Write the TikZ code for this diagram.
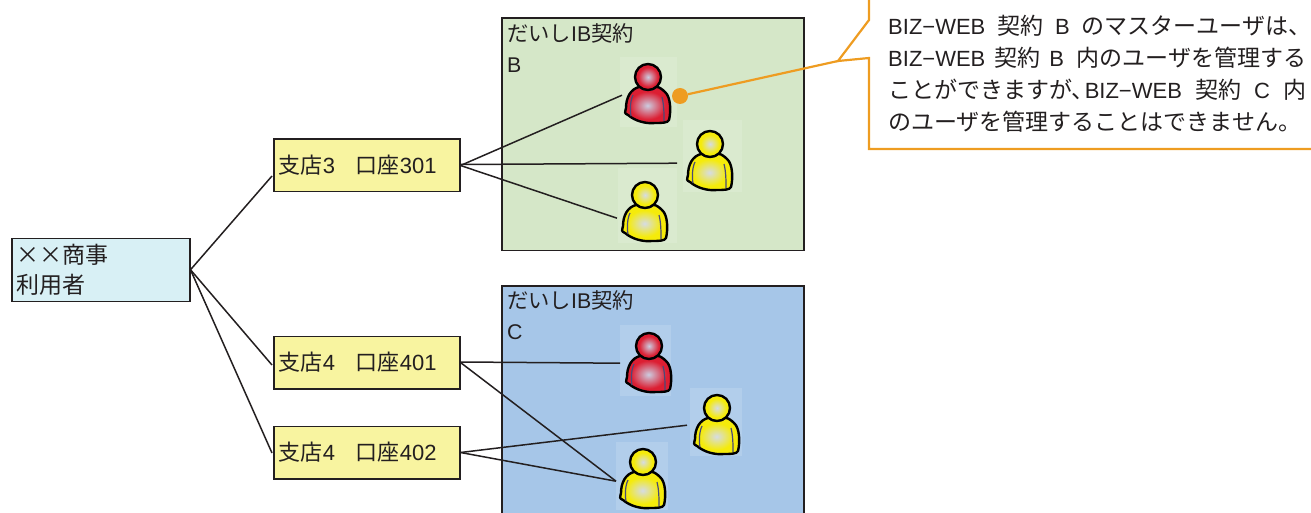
\documentclass[tikz,border=0pt]{standalone}
\usepackage{fontspec}
\setmainfont{Liberation Sans}
\newfontfamily\cjk{Noto Sans CJK JP}
\newcommand{\J}[1]{{\cjk #1}}
\newcommand{\JN}[1]{{\fontsize{23}{32}\selectfont\cjk #1}}
\definecolor{ink}{HTML}{231F20}
\definecolor{orangeline}{HTML}{EE9C21}
\definecolor{greenbox}{HTML}{D5E7C8}
\definecolor{bluebox}{HTML}{A6C6E8}
\definecolor{yellowbox}{HTML}{F8F4A0}
\definecolor{cyanbox}{HTML}{D8F0F5}
\definecolor{armline}{HTML}{4A4A78}
\definecolor{redmid}{HTML}{CCCCE0}
\definecolor{redout}{HTML}{DC1E32}
\definecolor{yelmid}{HTML}{D6DCE4}
\definecolor{yelout}{HTML}{F5EB0A}
\pgfdeclareradialshading{redg}{\pgfpoint{0cm}{0cm}}{color(0bp)=(redmid); color(19bp)=(redout); color(50bp)=(redout)}
\pgfdeclareradialshading{yelg}{\pgfpoint{0cm}{0cm}}{color(0bp)=(yelmid); color(18bp)=(yelout); color(50bp)=(yelout)}
\tikzset{
  x=1pt,y=-1pt,
  link/.style={draw=ink,line width=1.5pt},
  boxed/.style={draw=ink,line width=1.5pt,rectangle,anchor=north west,inner ysep=0pt,text=ink,align=left},
  account/.style={boxed,fill=yellowbox,minimum width=185.5pt,minimum height=52.5pt,text width=176pt,inner xsep=5pt,font=\fontsize{22}{26}\selectfont},
  contract/.style={draw=ink,line width=1.5pt,rectangle,anchor=north west,minimum width=302pt},
  boxtext/.style={anchor=north west,inner sep=0pt,text=ink,align=left,font=\fontsize{21.3}{30.5}\selectfont},
  personbg/.style={anchor=north west,rectangle,fill=white,fill opacity=.14,inner sep=0pt},
  redfig/.style={shading=redg},
  yellowfig/.style={shading=yelg},
}
\newcommand{\personfig}[3]{%
  \begin{scope}[shift={(#1,#2)}]
    \shade[#3,draw=black,line width=2.4pt,line join=round]
      (-9,10) .. controls (-17,12) and (-22,20) .. (-22,31)
      .. controls (-23,36) and (-24,36) .. (-20,38)
      .. controls (-13,44) and (-2,47) .. (7,46)
      .. controls (13,46) and (20,46) .. (21,43)
      .. controls (23,35) and (23,20) .. (17,15)
      .. controls (14,12) and (11,10) .. (9,10) -- cycle;
    \draw[draw=armline,line width=1.2pt] (-8,11) .. controls (-3,14) and (3,14) .. (8,11);
    \draw[draw=armline,line width=1.2pt] (-15,18) .. controls (-18,24) and (-18,34) .. (-17,39);
    \draw[draw=armline,line width=1.2pt] (14,20) .. controls (16,28) and (16,36) .. (16,44);
    \shade[#3,draw=black,line width=2.4pt] (0,0) circle (13);
  \end{scope}}
\begin{document}
\begin{tikzpicture}
\useasboundingbox (0,0) rectangle (1311,513);
\clip (0,0) rectangle (1311,513);
% contract boxes
\node[contract,fill=greenbox,minimum height=232pt] (cb) at (501,17.5) {};
\node[contract,fill=bluebox,minimum height=240pt] (cc) at (501,285) {};
\node[boxtext] (cbt) at (507,23.5) {\J{だいし}IB\J{契約}\\B};
\node[boxtext] (cct) at (507,290.5) {\J{だいし}IB\J{契約}\\C};
% people
\node[personbg,minimum width=57pt,minimum height=70pt] (p1) at (620,57) {};
\node[personbg,minimum width=59pt,minimum height=72pt] (p2) at (683,120) {};
\node[personbg,minimum width=59pt,minimum height=75pt] (p3) at (618,168) {};
\node[personbg,minimum width=51pt,minimum height=71pt] (p4) at (620,325) {};
\node[personbg,minimum width=52pt,minimum height=68pt] (p5) at (690,388) {};
\node[personbg,minimum width=52pt,minimum height=68pt] (p6) at (616,442) {};
\personfig{648}{77}{redfig}
\personfig{710}{144}{yellowfig}
\personfig{645}{195}{yellowfig}
\personfig{649}{346}{redfig}
\personfig{717}{408}{yellowfig}
\personfig{643}{462}{yellowfig}
% source boxes
\node[boxed,fill=cyanbox,minimum width=177.5pt,minimum height=63pt,text width=169pt,inner xsep=4.5pt,font=\fontsize{23}{30}\selectfont] (root) at (11,237.5) {\J{××商事}\\\J{利用者}};
\node[account] (a3) at (273,138.5) {\J{支店}3\hspace{21pt}\J{口座}301};
\node[account] (a41) at (273,335.5) {\J{支店}4\hspace{21pt}\J{口座}401};
\node[account] (a42) at (273,425.5) {\J{支店}4\hspace{21pt}\J{口座}402};
% connectors
\draw[link] (root.east) -- ([shift={(-1pt,-10.5pt)}]a3.west);
\draw[link] (root.east) -- ([shift={(-1pt,-2.5pt)}]a41.west);
\draw[link] (root.east) -- ([shift={(-1pt,-0.5pt)}]a42.west);
\draw[link] (a3.east) -- ([shift={(2pt,-3pt)}]p1.west);
\draw[link] ([yshift=1pt]a3.east) -- ([shift={(-6pt,-7pt)}]p2.west);
\draw[link] (a3.east) -- ([shift={(-1pt,-12.5pt)}]p3.west);
\draw[link] ([yshift=0.5pt]a41.east) -- ([shift={(0pt,-2.5pt)}]p4.west);
\draw[link] (a41.east) -- ([shift={(0pt,-5pt)}]p6.west);
\draw[link] (a42.east) -- ([shift={(-3pt,-3pt)}]p5.west);
\draw[link] (a42.east) -- ([shift={(0pt,-5pt)}]p6.west);
% callout
\coordinate (tip) at (838,61);
\draw[draw=orangeline,line width=2.2pt,line join=miter] (869,-5) -- (869,20) -- (tip) -- (869,58) -- (869,149) -- (1320,149);
\node[circle,fill=orangeline,inner sep=0pt,minimum size=16pt] (dot) at (680,96) {};
\draw[draw=orangeline,line width=2.2pt] (dot) -- (tip);
\node[anchor=north west,inner sep=0pt,text=ink,align=left,font=\fontsize{22}{32}\selectfont] (note) at (888,15) {%
\hbox to 418pt{BIZ−WEB\hfill\JN{契約}\hfill B\hfill\JN{のマスターユーザは、}\hspace{-5pt}}\\
\hbox to 418pt{BIZ−WEB\hspace{9pt}\JN{契約}\hspace{9pt}B\hfill\JN{内のユーザを管理する}}\\
\hbox to 418pt{\JN{ことができますが、}\hspace{-10pt}BIZ−WEB\hfill\JN{契約}\hfill C\hfill\JN{内}}\\
\hbox to 418pt{\JN{のユーザを管理することはできません。}\hfill}};
\end{tikzpicture}
\end{document}
